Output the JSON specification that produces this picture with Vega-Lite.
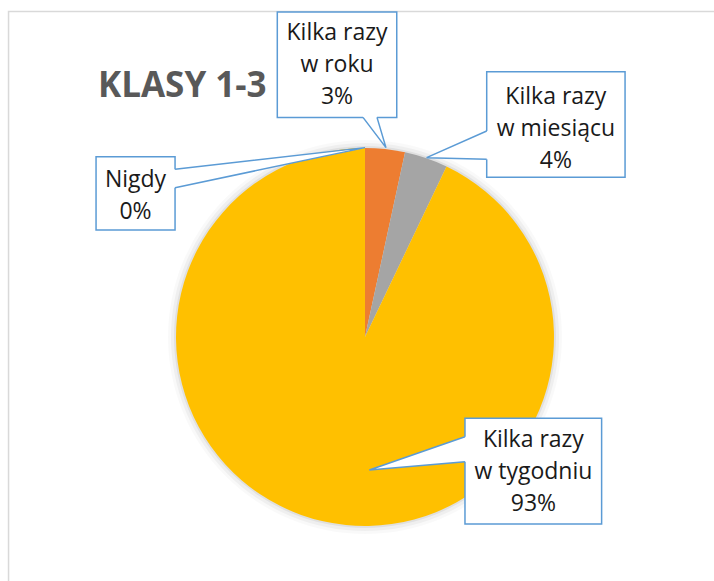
{
  "$schema": "https://vega.github.io/schema/vega-lite/v6.json",
  "width": 714,
  "height": 581,
  "padding": 0,
  "autosize": {"type": "none"},
  "background": "white",
  "config": {"view": {"stroke": null}},
  "datasets": {
    "slices": [
      {"n": 1, "cat": "Nigdy", "v": 0},
      {"n": 2, "cat": "Kilka razy w roku", "v": 3.4},
      {"n": 3, "cat": "Kilka razy w miesiącu", "v": 3.7},
      {"n": 4, "cat": "Kilka razy w tygodniu", "v": 92.9}
    ],
    "boxes": [
      {"g": "Nigdy", "x1": -142.3, "x2": -100.5, "y1": 95.4, "y2": 56.6, "cx": -121.4, "cy": 83.1, "label": "Nigdy\n0%"},
      {"g": "roku", "x1": -46.4, "x2": 16.8, "y1": 172.0, "y2": 116.2, "cx": -14.8, "cy": 160.8, "label": "Kilka razy\nw roku\n3%"},
      {"g": "miesiacu", "x1": 64.4, "x2": 137.6, "y1": 140.4, "y2": 84.5, "cx": 101.0, "cy": 127.0, "label": "Kilka razy\nw miesiącu\n4%"},
      {"g": "tygodniu", "x1": 52.9, "x2": 125.2, "y1": -43.0, "y2": -98.9, "cx": 89.1, "cy": -54.5, "label": "Kilka razy\nw tygodniu\n93%"}
    ],
    "pointers": [
      {"g": "Nigdy", "k": 0, "x": -100.5, "y": 88.7},
      {"g": "Nigdy", "k": 1, "x": 0, "y": 100.2},
      {"g": "Nigdy", "k": 2, "x": -100.5, "y": 79.0},
      {"g": "roku", "k": 0, "x": -1.06, "y": 116.2},
      {"g": "roku", "k": 1, "x": 11.1, "y": 100.2},
      {"g": "roku", "k": 2, "x": 6.35, "y": 116.2},
      {"g": "miesiacu", "k": 0, "x": 64.4, "y": 109.0},
      {"g": "miesiacu", "k": 1, "x": 32.6, "y": 94.9},
      {"g": "miesiacu", "k": 2, "x": 64.4, "y": 94.0},
      {"g": "tygodniu", "k": 0, "x": 52.9, "y": -52.8},
      {"g": "tygodniu", "k": 1, "x": 2.3, "y": -70.4},
      {"g": "tygodniu", "k": 2, "x": 52.9, "y": -66.0}
    ]
  },
  "layer": [
    {
      "data": {"values": [{}]},
      "mark": {"type": "rect", "fillOpacity": 0, "stroke": "#d9d9d9", "strokeWidth": 1.5, "clip": true},
      "encoding": {
        "x": {"datum": -188.6, "type": "quantitative", "scale": {"domain": [-193.12, 184.66], "nice": false, "zero": false}, "axis": null},
        "x2": {"datum": 200},
        "y": {"datum": 172.2, "type": "quantitative", "scale": {"domain": [-129.1, 178.31], "nice": false, "zero": false}, "axis": null},
        "y2": {"datum": -140}
      }
    },
    {
      "data": {"values": [{}]},
      "mark": {"type": "arc", "theta": 0, "theta2": 6.2832, "outerRadius": 197, "fill": "#000", "opacity": 0.025},
      "encoding": {
        "x": {"datum": 0, "type": "quantitative"},
        "y": {"datum": 0, "type": "quantitative"}
      }
    },
    {
      "data": {"values": [{}]},
      "mark": {"type": "arc", "theta": 0, "theta2": 6.2832, "outerRadius": 194, "fill": "#000", "opacity": 0.04},
      "encoding": {
        "x": {"datum": 0, "type": "quantitative"},
        "y": {"datum": 0, "type": "quantitative"}
      }
    },
    {
      "data": {"values": [{}]},
      "mark": {"type": "arc", "theta": 0, "theta2": 6.2832, "outerRadius": 191, "fill": "#000", "opacity": 0.06},
      "encoding": {
        "x": {"datum": 0, "type": "quantitative"},
        "y": {"datum": 0, "type": "quantitative"}
      }
    },
    {
      "data": {"name": "slices"},
      "mark": {"type": "arc", "outerRadius": 189},
      "encoding": {
        "x": {"datum": 0, "type": "quantitative"},
        "y": {"datum": 0, "type": "quantitative"},
        "theta": {"field": "v", "type": "quantitative", "stack": true},
        "order": {"field": "n", "type": "quantitative"},
        "color": {
          "field": "cat", "type": "nominal",
          "scale": {"domain": ["Nigdy", "Kilka razy w roku", "Kilka razy w miesiącu", "Kilka razy w tygodniu"], "range": ["#4472C4", "#ED7D31", "#A5A5A5", "#FFC000"]},
          "legend": null
        }
      }
    },
    {
      "data": {"name": "boxes"},
      "mark": {"type": "rect", "fill": "white", "stroke": "#5B9BD5", "strokeWidth": 1.5},
      "encoding": {
        "x": {"field": "x1", "type": "quantitative"},
        "x2": {"field": "x2"},
        "y": {"field": "y1", "type": "quantitative"},
        "y2": {"field": "y2"}
      }
    },
    {
      "data": {"name": "pointers"},
      "transform": [{"filter": "datum.k != 1"}],
      "mark": {"type": "line", "stroke": "white", "strokeWidth": 3.5, "strokeCap": "butt"},
      "encoding": {
        "x": {"field": "x", "type": "quantitative"},
        "y": {"field": "y", "type": "quantitative"},
        "detail": {"field": "g"},
        "order": {"field": "k"}
      }
    },
    {
      "data": {"name": "pointers"},
      "mark": {"type": "line", "fill": "white", "stroke": "#5B9BD5", "strokeWidth": 1.5, "strokeJoin": "miter"},
      "encoding": {
        "x": {"field": "x", "type": "quantitative"},
        "y": {"field": "y", "type": "quantitative"},
        "detail": {"field": "g"},
        "order": {"field": "k"}
      }
    },
    {
      "data": {"name": "boxes"},
      "mark": {"type": "text", "font": "Open Sans", "fontSize": 23, "lineBreak": "\n", "lineHeight": 32, "align": "center", "baseline": "middle", "color": "#1a1a1a"},
      "encoding": {
        "x": {"field": "cx", "type": "quantitative"},
        "y": {"field": "cy", "type": "quantitative"},
        "text": {"field": "label"}
      }
    },
    {
      "data": {"values": [{"t": "KLASY 1-3"}]},
      "mark": {"type": "text", "font": "Open Sans", "fontSize": 35, "fontWeight": "bold", "align": "left", "baseline": "alphabetic", "color": "#595959"},
      "encoding": {
        "x": {"datum": -141.3, "type": "quantitative"},
        "y": {"datum": 127.0, "type": "quantitative"},
        "text": {"field": "t"}
      }
    }
  ]
}
